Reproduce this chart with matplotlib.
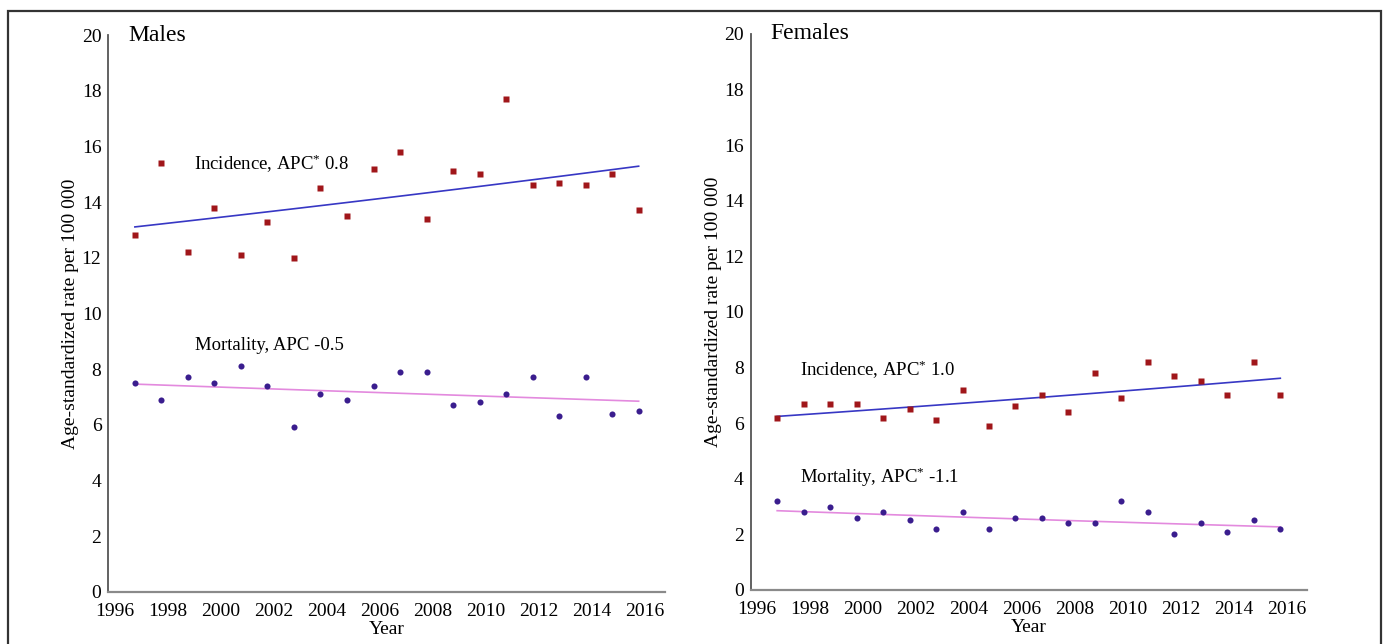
import numpy as np
import matplotlib
matplotlib.use("Agg")
import matplotlib.pyplot as plt
import matplotlib.transforms as mtransforms
from matplotlib.patches import Rectangle

plt.rcParams['font.family'] = ['Liberation Serif', 'DejaVu Serif']
plt.rcParams['mathtext.fontset'] = 'custom'
plt.rcParams['mathtext.rm'] = 'Liberation Serif'
plt.rcParams['mathtext.it'] = 'Liberation Serif:italic'

# data
years = list(range(1997, 2017))
male_inc = [12.8, 15.4, 12.2, 13.8, 12.1, 13.3, 12.0, 14.5, 13.5, 15.2,
            15.8, 13.4, 15.1, 15.0, 17.7, 14.6, 14.7, 14.6, 15.0, 13.7]
male_mort = [7.5, 6.9, 7.7, 7.5, 8.1, 7.4, 5.9, 7.1, 6.9, 7.4,
             7.9, 7.9, 6.7, 6.8, 7.1, 7.7, 6.3, 7.7, 6.4, 6.5]
female_inc = [6.2, 6.7, 6.7, 6.7, 6.2, 6.5, 6.1, 7.2, 5.9, 6.6,
              7.0, 6.4, 7.8, 6.9, 8.2, 7.7, 7.5, 7.0, 8.2, 7.0]
female_mort = [3.2, 2.8, 3.0, 2.6, 2.8, 2.5, 2.2, 2.8, 2.2, 2.6,
               2.6, 2.4, 2.4, 3.2, 2.8, 2.0, 2.4, 2.1, 2.5, 2.2]
xticks = list(range(1996, 2017, 2))
yticks = list(range(0, 21, 2))

RED = '#a0161a'
PURPLE = '#3a1d8e'
BLUE = '#3737c4'
PINK = '#e38ade'


def trend(x, y):
    # log-linear fit (APC style)
    x = np.asarray(x, float)
    b, a = np.polyfit(x, np.log(y), 1)
    return np.exp(a + b * x)


fig = plt.figure(figsize=(13.84, 6.44), dpi=100)

panels = [
    ([0.0783, 0.0812, 0.4025, 0.8644], "Males", male_inc, male_mort,
     (1999.22, 15.14, r"Incidence, APC$^{*}$ 0.8"),
     (1999.28, 8.69, "Mortality, APC -0.5")),
    ([0.5424, 0.0839, 0.4020, 0.8634], "Females", female_inc, female_mort,
     (1997.88, 7.70, r"Incidence, APC$^{*}$ 1.0"),
     (1997.88, 3.86, r"Mortality, APC$^{*}$ -1.1")),
]

for rect, title, inc, mort, t_inc, t_mort in panels:
    ax = fig.add_axes(rect)
    ax.plot(years, trend(years, inc), color=BLUE, lw=1.2, zorder=2)
    ax.plot(years, trend(years, mort), color=PINK, lw=1.2, zorder=2)
    ax.plot(years, inc, 's', color=RED, ms=4.5, mec='none', zorder=3)
    ax.plot(years, mort, 'o', color=PURPLE, ms=4.4, mec='none', zorder=3)

    ax.set_xlim(1996.03, 2017.01)
    ax.set_ylim(0, 20)
    ax.set_xticks(xticks)
    ax.set_yticks(yticks)
    ax.tick_params(length=0, labelsize=14)
    ax.tick_params(axis='x', pad=8)
    ax.tick_params(axis='y', pad=5)
    offset = mtransforms.ScaledTranslation(6.5 / 100, 0, fig.dpi_scale_trans)
    for lab in ax.get_xticklabels():
        lab.set_transform(lab.get_transform() + offset)

    for s in ['top', 'right']:
        ax.spines[s].set_visible(False)
    ax.spines['left'].set_color('#555555')
    ax.spines['bottom'].set_color('#8a8a8a')
    ax.spines['left'].set_linewidth(1.3)
    ax.spines['bottom'].set_linewidth(1.6)

    ax.set_xlabel("Year", fontsize=14, labelpad=1)
    ax.set_ylabel("Age-standardized rate per 100 000", fontsize=14)
    ax.yaxis.set_label_coords(-0.052, 0.5)

    ax.text(0.036, 0.99, title, transform=ax.transAxes, fontsize=17,
            va='baseline', ha='left')
    ax.text(t_inc[0], t_inc[1], t_inc[2], fontsize=13.5, va='baseline')
    ax.text(t_mort[0], t_mort[1], t_mort[2], fontsize=13.5, va='baseline')

# outer frame
fig.patches.append(Rectangle((8 / 1384, -0.05), (1381 - 8) / 1384, 1.05 - 11 / 644,
                             transform=fig.transFigure, fill=False,
                             edgecolor='#333333', lw=1.6))

plt.savefig("out.png", dpi=100)
